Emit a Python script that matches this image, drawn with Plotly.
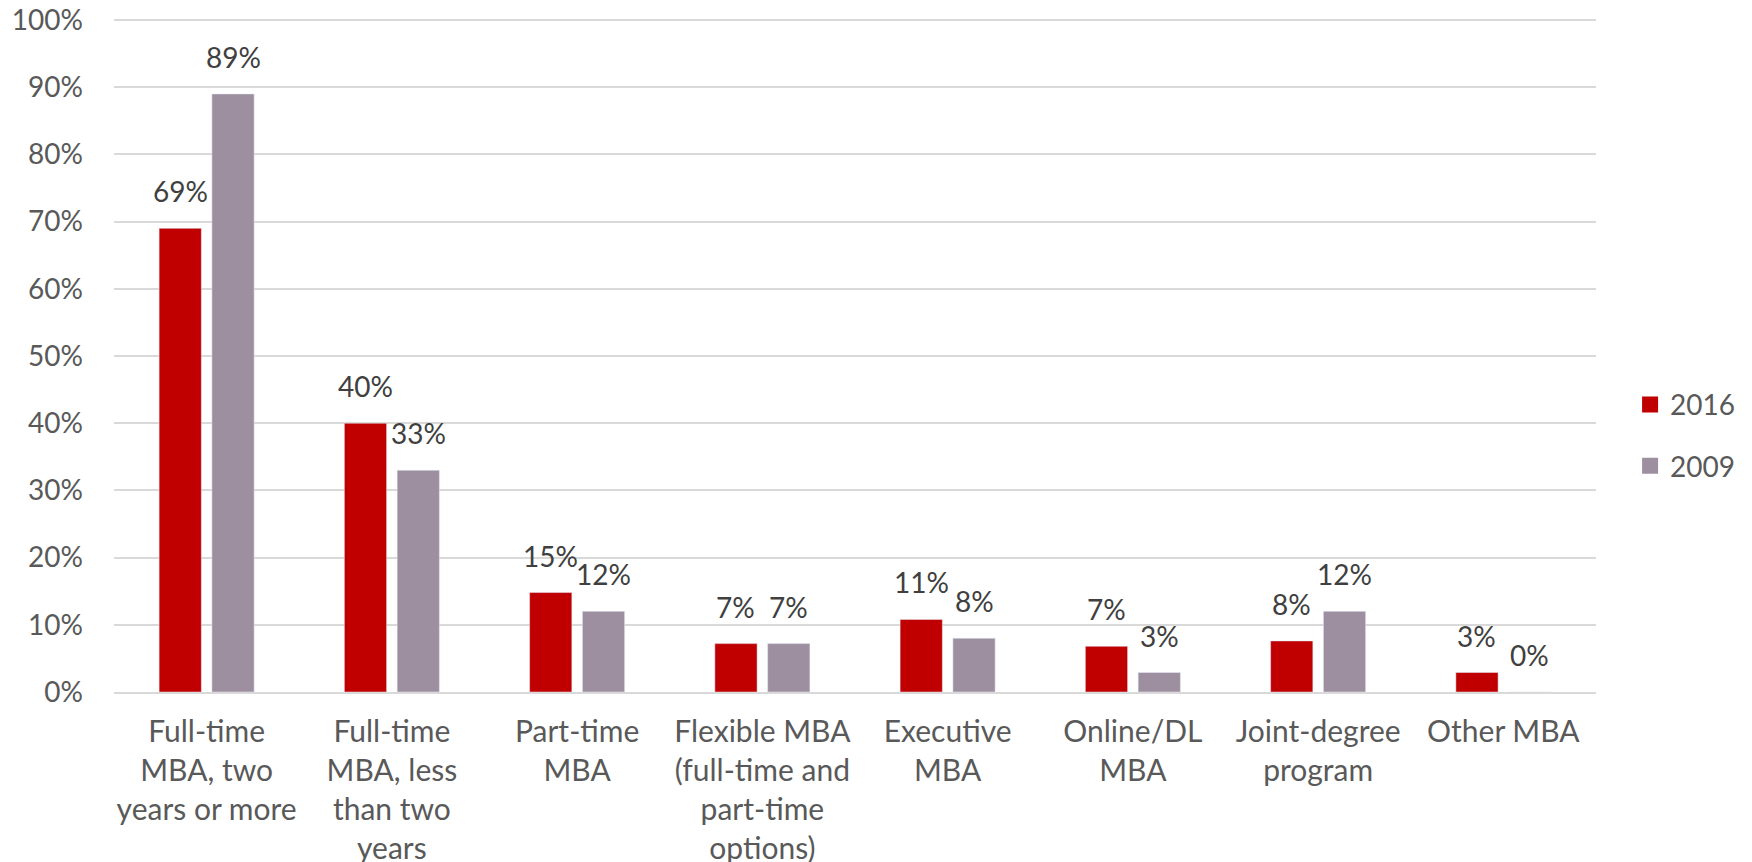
import plotly.graph_objects as go

categories = [
    "Full-time<br>MBA, two<br>years or more",
    "Full-time<br>MBA, less<br>than two<br>years",
    "Part-time<br>MBA",
    "Flexible MBA<br>(full-time and<br>part-time<br>options)",
    "Executive<br>MBA",
    "Online/DL<br>MBA",
    "Joint-degree<br>program",
    "Other MBA",
]
share_2016 = [69, 40, 14.8, 7.2, 10.8, 6.8, 7.6, 2.9]
share_2009 = [89, 33, 12, 7.2, 8, 2.9, 12, 0]
y_ticks = [0, 10, 20, 30, 40, 50, 60, 70, 80, 90, 100]

RED = "#C00000"
GREY = "#9E8FA0"
FONT = "Lato, 'Liberation Sans', sans-serif"

fig = go.Figure()
fig.add_trace(go.Bar(name="2016", x=categories, y=share_2016, marker_color=RED,
                     showlegend=False))
fig.add_trace(go.Bar(name="2009", x=categories, y=share_2009, marker_color=GREY,
                     showlegend=False))

# legend entries with bigger square swatches than the bar default
for name, col, grp in (("2016", RED, "a"), ("2009", GREY, "b")):
    fig.add_trace(go.Scatter(x=[None], y=[None], mode="markers", name=name,
                             legendgroup=grp,
                             marker=dict(symbol="square", size=18, color=col)))

# data labels, sitting a bit higher above the bars like Excel does
for vals, shift in ((share_2016, -26.5), (share_2009, 26.5)):
    for cat, v in zip(categories, vals):
        fig.add_annotation(x=cat, y=v, text=f"{v:.0f}%", showarrow=False,
                           xref="x", yref="y", yanchor="bottom",
                           xshift=shift, yshift=18,
                           font=dict(size=28, color="#404040", family=FONT))

fig.update_layout(
    width=1752, height=862,
    margin=dict(l=114, r=153, t=18, b=170),
    plot_bgcolor="white", paper_bgcolor="white",
    barmode="group", bargap=0.43, bargroupgap=0.2,
    font=dict(family=FONT, size=28, color="#595959"),
    legend=dict(x=1.023, xanchor="left", y=0.381, yanchor="middle",
                traceorder="grouped", tracegroupgap=22,
                font=dict(size=28, color="#595959")),
)
fig.update_xaxes(showgrid=False, showline=True, linecolor="#D9D9D9", linewidth=2,
                 ticks="", automargin=False, ticklabelstandoff=12,
                 tickfont=dict(size=30))
# top of range nudged past 100 so plotly keeps the 100% gridline
fig.update_yaxes(range=[0, 100.3], tickvals=y_ticks, ticktext=[f"{t}%" for t in y_ticks],
                 showgrid=True, gridcolor="#D9D9D9", gridwidth=2,
                 zeroline=False, showline=False, ticks="", automargin=False,
                 ticklabelstandoff=30, ticklabeloverflow="allow")

# drop the default page margin so the figure sits flush with the window
fig.write_html("out.html", config={"displayModeBar": False},
               post_script="document.body.style.margin='0';")
